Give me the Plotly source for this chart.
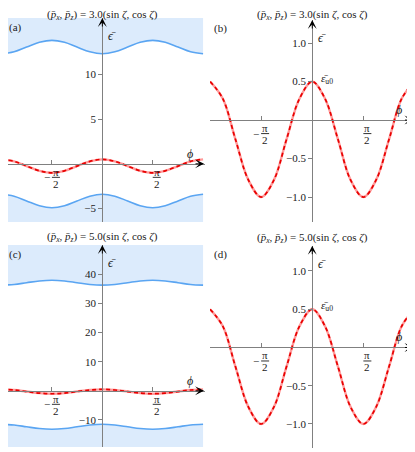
import plotly.graph_objects as go

# sample angles phi (rad) and the values
PHI = [-3.14, -2.75, -2.36, -1.96, -1.57, -1.18, -0.79, -0.39, 0.0,
       0.39, 0.79, 1.18, 1.57, 1.96, 2.36, 2.75, 3.14]

# red (dashed) band, identical in all four panels
eps_u_a = [0.5, 0.28, -0.25, -0.78, -1.0, -0.78, -0.25, 0.28, 0.5,
           0.28, -0.25, -0.78, -1.0, -0.78, -0.25, 0.28, 0.5]
eps_u_b = [0.5, 0.28, -0.25, -0.78, -1.0, -0.78, -0.25, 0.28, 0.5,
           0.28, -0.25, -0.78, -1.0, -0.78, -0.25, 0.28, 0.5]
eps_u_c = [0.5, 0.28, -0.25, -0.78, -1.0, -0.78, -0.25, 0.28, 0.5,
           0.28, -0.25, -0.78, -1.0, -0.78, -0.25, 0.28, 0.5]
eps_u_d = [0.5, 0.28, -0.25, -0.78, -1.0, -0.78, -0.25, 0.28, 0.5,
           0.28, -0.25, -0.78, -1.0, -0.78, -0.25, 0.28, 0.5]

# blue bands, p = 3.0
band_hi_a = [12.3, 12.52, 13.05, 13.58, 13.8, 13.58, 13.05, 12.52, 12.3,
             12.52, 13.05, 13.58, 13.8, 13.58, 13.05, 12.52, 12.3]
band_lo_a = [-3.4, -3.62, -4.15, -4.68, -4.9, -4.68, -4.15, -3.62, -3.4,
             -3.62, -4.15, -4.68, -4.9, -4.68, -4.15, -3.62, -3.4]
# blue bands, p = 5.0
band_hi_c = [36.3, 36.55, 37.15, 37.75, 38.0, 37.75, 37.15, 36.55, 36.3,
             36.55, 37.15, 37.75, 38.0, 37.75, 37.15, 36.55, 36.3]
band_lo_c = [-11.5, -11.75, -12.35, -12.95, -13.2, -12.95, -12.35, -11.75, -11.5,
             -11.75, -12.35, -12.95, -13.2, -12.95, -12.35, -11.75, -11.5]

p_values = ["3.0", "3.0", "5.0", "5.0"]
panel_tags = ["(a)", "(b)", "(c)", "(d)"]
yticks_a = [-5, 5, 10]
yticks_c = [-10, 10, 20, 30, 40]
yticks_bd = [-1.0, -0.5, 0.5, 1.0]
yticktext_bd = ["\u22121.0", "\u22120.5", "0.5", "1.0"]
xticks = [-1.5708, 1.5708]

# the page has an 8px body margin, so the figure is a bit smaller than the window
OFF = 8
W, H = 415 - OFF, 452 - OFF
FONT = "Liberation Serif"
TXT = "#1a1a1a"
AXC = "#808080"
BLUE = "#5aa5f2"
FILL = "#dcebfc"


def px_x(px):
    return (px - OFF) / W


def px_y(py):
    return 1 - (py - OFF) / H


# page-pixel boxes of the panels: (left, right, top, bottom) and ranges
panels = [
    dict(sfx="", box=(8, 205, 18, 222), xr=[-2.94, 3.2], yr=[-6.5, 16.3],
         ticks=yticks_a, ticktext=[str(t).replace("-", "\u2212") for t in yticks_a],
         eps=eps_u_a, hi=band_hi_a, lo=band_lo_a, zoom=False, title_y=14.5),
    dict(sfx="2", box=(210, 414.5, 20, 221.7), xr=[-3.1416, 3.1416], yr=[-1.32, 1.30],
         ticks=yticks_bd, ticktext=yticktext_bd, eps=eps_u_b, zoom=True, title_y=14.5),
    dict(sfx="3", box=(8, 205, 245, 447), xr=[-2.94, 3.2], yr=[-19.3, 50.1],
         ticks=yticks_c, ticktext=[str(t).replace("-", "\u2212") for t in yticks_c],
         eps=eps_u_c, hi=band_hi_c, lo=band_lo_c, zoom=False, title_y=237),
    dict(sfx="4", box=(210, 414.5, 245.7, 447.7), xr=[-3.1416, 3.1416], yr=[-1.31, 1.33],
         ticks=yticks_bd, ticktext=yticktext_bd, eps=eps_u_d, zoom=True, title_y=238),
]

fig = go.Figure()
annotations = []
shapes = []

for i, p in enumerate(panels):
    xa, ya = "x" + p["sfx"], "y" + p["sfx"]
    l, r, t, b = p["box"]
    xdom = [px_x(l), min(px_x(r), 1.0)]
    ydom = [max(px_y(b), 0.0), px_y(t)]
    x0pos = xdom[0] + (0 - p["xr"][0]) / (p["xr"][1] - p["xr"][0]) * (xdom[1] - xdom[0])
    y0pos = ydom[0] + (0 - p["yr"][0]) / (p["yr"][1] - p["yr"][0]) * (ydom[1] - ydom[0])

    if not p["zoom"]:
        ytop, ybot = p["yr"][1], p["yr"][0]
        # upper band
        fig.add_trace(go.Scatter(x=PHI, y=[ytop] * len(PHI), xaxis=xa, yaxis=ya,
                                 mode="lines", line=dict(width=0), showlegend=False,
                                 hoverinfo="skip"))
        fig.add_trace(go.Scatter(x=PHI, y=p["hi"], xaxis=xa, yaxis=ya, mode="lines",
                                 line=dict(color=BLUE, width=1.6, shape="spline"),
                                 fill="tonexty", fillcolor=FILL, showlegend=False))
        # lower band
        fig.add_trace(go.Scatter(x=PHI, y=[ybot] * len(PHI), xaxis=xa, yaxis=ya,
                                 mode="lines", line=dict(width=0), showlegend=False,
                                 hoverinfo="skip"))
        fig.add_trace(go.Scatter(x=PHI, y=p["lo"], xaxis=xa, yaxis=ya, mode="lines",
                                 line=dict(color=BLUE, width=1.6, shape="spline"),
                                 fill="tonexty", fillcolor=FILL, showlegend=False))

    fig.add_trace(go.Scatter(x=PHI, y=p["eps"], xaxis=xa, yaxis=ya, mode="lines",
                             line=dict(color="#ff9a9a", width=2.4, shape="spline"),
                             showlegend=False))
    fig.add_trace(go.Scatter(x=PHI, y=p["eps"], xaxis=xa, yaxis=ya, mode="lines",
                             line=dict(color="#e80000", width=1.7, shape="spline",
                                       dash="4px,3px"),
                             showlegend=False))

    fig.update_layout(**{
        "xaxis" + p["sfx"]: dict(domain=xdom, range=p["xr"], anchor="free", position=y0pos,
                                  showline=True, linecolor=AXC, linewidth=1.3,
                                  showgrid=False, zeroline=False, tickvals=xticks,
                                  ticks="inside", ticklen=4, tickcolor=AXC,
                                  showticklabels=False, layer="above traces",
                                  fixedrange=True),
        "yaxis" + p["sfx"]: dict(domain=ydom, range=p["yr"], anchor="free", position=x0pos,
                                  showline=True, linecolor=AXC, linewidth=1.3,
                                  showgrid=False, zeroline=False, tickvals=p["ticks"],
                                  ticktext=p["ticktext"], ticks="outside", ticklen=4,
                                  tickcolor=AXC, tickfont=dict(family=FONT, size=11, color=TXT),
                                  layer="above traces", fixedrange=True),
    })

    xref, yref = xa, ya
    # arrow heads
    annotations.append(dict(x=0.995, xref=xref + " domain", y=0, yref=yref, ax=-10, ay=0,
                            text="", showarrow=True, arrowhead=3, arrowsize=1.5,
                            arrowwidth=1, arrowcolor="black"))
    annotations.append(dict(x=0, xref=xref, y=1.0, yref=yref + " domain", ax=0, ay=10,
                            text="", showarrow=True, arrowhead=3, arrowsize=1.5,
                            arrowwidth=1, arrowcolor="black"))
    # axis names
    annotations.append(dict(x=0, xref=xref, xshift=10, y=0.955, yref=yref + " domain",
                            text="<i>\u03f5\u0304</i>", showarrow=False,
                            font=dict(family=FONT, size=12, color=TXT)))
    annotations.append(dict(x=0.95, xref=xref + " domain", y=0, yref=yref, yshift=10,
                            text="<i>\u03d5</i>", showarrow=False,
                            font=dict(family=FONT, size=12, color=TXT)))
    if p["zoom"]:
        annotations.append(dict(x=0, xref=xref, xshift=7, y=0.5, yref=yref, yshift=3,
                                xanchor="left",
                                text="<i>\u03b5\u0304</i><sub>u0</sub>", showarrow=False,
                                font=dict(family=FONT, size=11, color=TXT)))
    # pi/2 fraction tick labels
    for xt in xticks:
        annotations.append(dict(x=xt, xref=xref, xshift=4, y=0, yref=yref, yshift=-8,
                                text="\u03c0", showarrow=False,
                                font=dict(family=FONT, size=11, color=TXT)))
        annotations.append(dict(x=xt, xref=xref, xshift=4, y=0, yref=yref, yshift=-20,
                                text="2", showarrow=False,
                                font=dict(family=FONT, size=11, color=TXT)))
        shapes.append(dict(type="line", xref=xref, xsizemode="pixel", xanchor=xt,
                           x0=0, x1=8, yref=yref, ysizemode="pixel", yanchor=0,
                           y0=-13.5, y1=-13.5, line=dict(color=TXT, width=0.9)))
        if xt < 0:
            annotations.append(dict(x=xt, xref=xref, xshift=-5, y=0, yref=yref,
                                    yshift=-13.5, text="\u2212", showarrow=False,
                                    font=dict(family=FONT, size=11, color=TXT)))

    # title and panel tag
    annotations.append(dict(x=x0pos, xref="paper", xanchor="center",
                            y=px_y(p["title_y"]), yref="paper", yanchor="middle",
                            text="(<i>p\u0304</i><sub><i>x</i></sub>, <i>p\u0304</i><sub><i>z</i></sub>) = "
                                 + p_values[i] + "(sin <i>\u03b6</i>, cos <i>\u03b6</i>)",
                            showarrow=False, font=dict(family=FONT, size=11, color=TXT)))
    tag_x = 15 if l < 100 else 220
    annotations.append(dict(x=px_x(tag_x), xref="paper", xanchor="center",
                            y=px_y(t + 9), yref="paper", yanchor="middle",
                            text=panel_tags[i], showarrow=False,
                            font=dict(family=FONT, size=11, color=TXT)))

fig.update_layout(width=W, height=H, margin=dict(l=0, r=0, t=0, b=0),
                  paper_bgcolor="white", plot_bgcolor="rgba(0,0,0,0)",
                  annotations=annotations, shapes=shapes,
                  font=dict(family=FONT, color=TXT))

fig.write_html("out.html")
